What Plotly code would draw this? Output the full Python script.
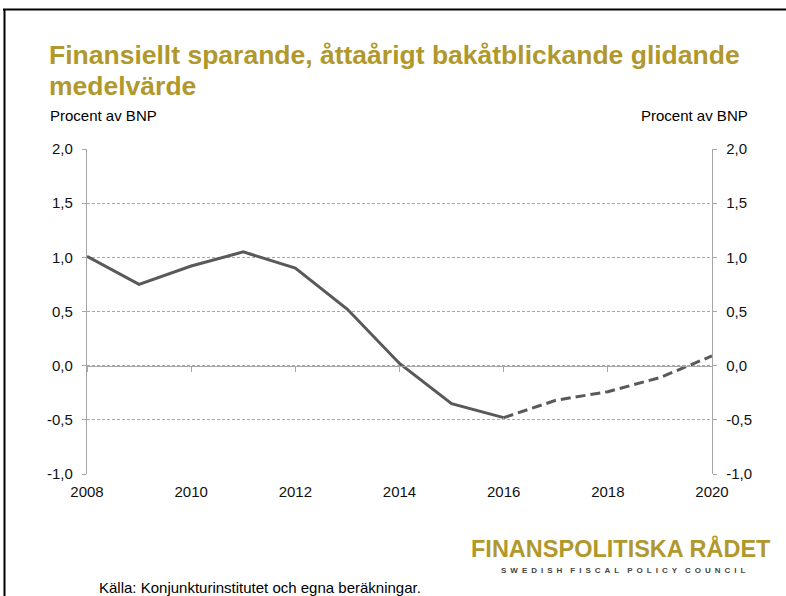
import plotly.graph_objects as go

years = [2008, 2009, 2010, 2011, 2012, 2013, 2014, 2015, 2016, 2017, 2018, 2019, 2020]
saving = [1.01, 0.75, 0.92, 1.05, 0.90, 0.52, 0.02, -0.35, -0.48, -0.32, -0.24, -0.11, 0.09]
last_outcome_year = 2016
x_ticks = [2008, 2010, 2012, 2014, 2016, 2018, 2020]
y_ticks = [-1.0, -0.5, 0.0, 0.5, 1.0, 1.5, 2.0]
y_tick_labels = [f"{v:.1f}".replace(".", ",") for v in y_ticks]

title_line1 = "Finansiellt sparande, åttaårigt bakåtblickande glidande"
title_line2 = "medelvärde"
unit_text = "Procent av BNP"
source_text = "Källa: Konjunkturinstitutet och egna beräkningar."
logo_text = "FINANSPOLITISKA RÅDET"
logo_sub = "SWEDISH FISCAL POLICY COUNCIL"

GOLD = "#B0982C"
LINE = "#595959"
AX = "#A6A6A6"
FONT = "Liberation Sans, Arial, sans-serif"

W, H = 786, 596
L, R, T, B = 87, 74, 149, 122

i_split = years.index(last_outcome_year)
fig = go.Figure()
fig.add_trace(go.Scatter(x=years[:i_split + 1], y=saving[:i_split + 1], mode="lines",
                         line=dict(color=LINE, width=3), showlegend=False, hoverinfo="skip"))
fig.add_trace(go.Scatter(x=years[i_split:], y=saving[i_split:], mode="lines",
                         line=dict(color=LINE, width=3, dash="10px,5px"), showlegend=False,
                         hoverinfo="skip"))
# invisible trace to carry secondary axes
fig.add_trace(go.Scatter(x=[years[0]], y=[saving[0]], xaxis="x2", yaxis="y2", mode="lines",
                         line=dict(width=0), showlegend=False, hoverinfo="skip"))

tickfont = dict(family=FONT, size=15, color="#111")
fig.update_layout(
    width=W, height=H,
    margin=dict(l=L, r=R, t=T, b=B),
    paper_bgcolor="white", plot_bgcolor="white",
    xaxis=dict(range=[2008, 2020], tickvals=x_ticks, showgrid=False, zeroline=False,
               showline=False, ticks="outside", ticklen=4, tickcolor="rgba(0,0,0,0)",
               tickfont=tickfont, ticklabelstandoff=0),
    xaxis2=dict(range=[2008, 2020], overlaying="x", anchor="free", position=1/3,
                tickvals=x_ticks, showticklabels=False, showgrid=False, zeroline=False,
                showline=True, linecolor=AX, linewidth=1.3, ticks="outside", ticklen=5,
                tickcolor=AX, tickwidth=1),
    yaxis=dict(range=[-1, 2], tickvals=y_ticks, ticktext=y_tick_labels, showgrid=True,
               gridcolor="#a8a8a8", griddash="3px,2px", gridwidth=1,
               zeroline=False, showline=True, linecolor=AX, linewidth=1.3,
               ticks="outside", ticklen=4, tickcolor=AX, tickfont=tickfont,
               ticklabelstandoff=6),
    yaxis2=dict(range=[-1, 2], tickvals=y_ticks, ticktext=y_tick_labels, overlaying="y",
                side="right", anchor="x", showgrid=False, zeroline=False, showline=True,
                linecolor=AX, linewidth=1.3, ticks="outside", ticklen=4, tickcolor=AX,
                tickfont=tickfont, ticklabelstandoff=6),
    showlegend=False,
)


def px_x(p):
    return (p - L) / (W - L - R)


def px_y(p):
    return ((H - p) - B) / (H - T - B)


sub_spaced = "\u2003".join("\u2002".join(w) for w in logo_sub.split())
annotations = [
    dict(text="<b>" + title_line1 + "</b>", x=47, y=55, xanchor="left",
         font=dict(family=FONT, size=26.5, color=GOLD)),
    dict(text="<b>" + title_line2 + "</b>", x=47, y=86, xanchor="left",
         font=dict(family=FONT, size=26.5, color=GOLD)),
    dict(text=unit_text, x=48, y=116, xanchor="left",
         font=dict(family=FONT, size=15, color="#000")),
    dict(text=unit_text, x=750, y=116, xanchor="right",
         font=dict(family=FONT, size=15, color="#000")),
    dict(text="<b>" + logo_text + "</b>", x=773, y=548, xanchor="right",
         font=dict(family=FONT, size=23.5, color=GOLD)),
    dict(text="<b>" + sub_spaced + "</b>", x=623, y=570, xanchor="center",
         font=dict(family=FONT, size=8, color="#444")),
    dict(text=source_text, x=97, y=587, xanchor="left",
         font=dict(family=FONT, size=15, color="#000")),
]
for a in annotations:
    a.update(xref="paper", yref="paper", showarrow=False, yanchor="middle", align="left")
    a["x"] = px_x(a["x"])
    a["y"] = px_y(a["y"])
fig.update_layout(annotations=annotations)

# slide frame lines
fig.add_shape(type="line", xref="paper", yref="paper", x0=px_x(3), x1=px_x(800),
              y0=px_y(9.5), y1=px_y(9.5), line=dict(color="black", width=2))
fig.add_shape(type="line", xref="paper", yref="paper", x0=px_x(4.5), x1=px_x(4.5),
              y0=px_y(9), y1=px_y(610), line=dict(color="black", width=2))

fig.write_html("out.html", config={"displayModeBar": False},
               post_script="document.body.style.margin='0';document.body.style.overflow='hidden';")
